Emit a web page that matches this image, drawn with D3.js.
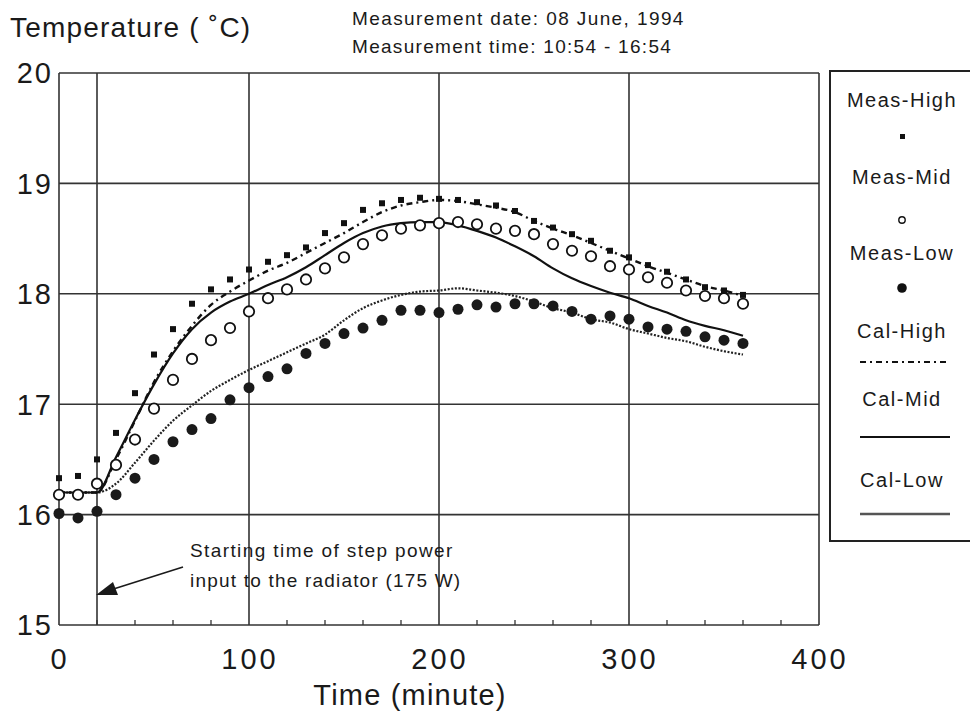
<!DOCTYPE html>
<html>
<head>
<meta charset="utf-8">
<script src="https://cdn.jsdelivr.net/npm/d3@7"></script>
<style>
  body { margin: 0; background: #fff; }
  svg { font-family: "Liberation Sans", Arial, Helvetica, sans-serif; }
</style>
</head>
<body>
<div id="chart"></div>
<script>
var width = 970,
    height = 712;

// time of each measurement / calculation point (minute)
var times = [0, 10, 20, 30, 40, 50, 60, 70, 80, 90, 100, 110, 120, 130, 140, 150, 160, 170, 180,
    190, 200, 210, 220, 230, 240, 250, 260, 270, 280, 290, 300, 310, 320, 330, 340, 350, 360];

var measHigh = [16.33, 16.35, 16.5, 16.74, 17.1, 17.45, 17.68, 17.91, 18.04, 18.13, 18.22, 18.29, 18.35,
    18.42, 18.55, 18.64, 18.76, 18.82, 18.85, 18.87, 18.86, 18.85, 18.83, 18.8, 18.75, 18.66, 18.6,
    18.54, 18.48, 18.39, 18.33, 18.26, 18.2, 18.13, 18.06, 18.03, 17.99];
var measMid = [16.18, 16.18, 16.28, 16.45, 16.68, 16.96, 17.22, 17.41, 17.58, 17.69, 17.84, 17.96, 18.04,
    18.13, 18.23, 18.33, 18.45, 18.53, 18.59, 18.62, 18.64, 18.65, 18.63, 18.59, 18.57, 18.54, 18.45,
    18.39, 18.34, 18.25, 18.22, 18.15, 18.1, 18.03, 17.98, 17.96, 17.91];
var measLow = [16.01, 15.97, 16.03, 16.18, 16.33, 16.5, 16.66, 16.77, 16.87, 17.04, 17.15, 17.25, 17.32,
    17.46, 17.55, 17.64, 17.69, 17.76, 17.85, 17.85, 17.83, 17.86, 17.9, 17.88, 17.91, 17.91, 17.89,
    17.84, 17.77, 17.8, 17.77, 17.7, 17.68, 17.66, 17.61, 17.58, 17.55];
var calHigh = [16.2, 16.2, 16.2, 16.5, 16.85, 17.2, 17.48, 17.71, 17.9, 18.02, 18.12, 18.21, 18.28,
    18.37, 18.46, 18.55, 18.65, 18.74, 18.8, 18.83, 18.85, 18.84, 18.81, 18.78, 18.74, 18.66, 18.59,
    18.53, 18.46, 18.39, 18.32, 18.25, 18.19, 18.13, 18.07, 18.03, 17.98];
var calMid = [16.2, 16.2, 16.2, 16.52, 16.86, 17.18, 17.46, 17.68, 17.83, 17.93, 18.0, 18.08, 18.15,
    18.24, 18.35, 18.46, 18.55, 18.61, 18.64, 18.65, 18.65, 18.62, 18.57, 18.51, 18.43, 18.34, 18.23,
    18.14, 18.07, 18.01, 17.96, 17.89, 17.83, 17.76, 17.71, 17.67, 17.62];
var calLow = [16.2, 16.2, 16.2, 16.28, 16.47, 16.67, 16.85, 16.99, 17.12, 17.22, 17.31, 17.39, 17.47,
    17.55, 17.63, 17.76, 17.87, 17.94, 17.99, 18.02, 18.03, 18.05, 18.03, 18.01, 17.98, 17.93, 17.87,
    17.83, 17.77, 17.74, 17.68, 17.64, 17.6, 17.57, 17.52, 17.48, 17.45];

var xTicks = [0, 100, 200, 300, 400];
var xMinorTicks = [20, 40, 60, 80, 120, 140, 160, 180, 220, 240, 260, 280, 320, 340, 360, 380];
var yTicks = [15, 16, 17, 18, 19, 20];
var powerStart = 20;

var legendItems = ["Meas-High", "Meas-Mid", "Meas-Low", "Cal-High", "Cal-Mid", "Cal-Low"];

var svg = d3.select("#chart").append("svg")
    .attr("width", width)
    .attr("height", height);

var x = d3.scaleLinear().domain([0, 400]).range([59, 819]);
var y = d3.scaleLinear().domain([15, 20]).range([625, 73]);

var ink = "#1a1a1a";

/** grid */
svg.append("g").selectAll("line")
    .data(yTicks)
    .enter().append("line")
    .attr("x1", x(0)).attr("x2", x(400))
    .attr("y1", function(d) { return y(d); })
    .attr("y2", function(d) { return y(d); })
    .attr("stroke", "#333").attr("stroke-width", 1.6);

svg.append("g").selectAll("line")
    .data(xTicks.concat([powerStart]))
    .enter().append("line")
    .attr("x1", function(d) { return x(d); })
    .attr("x2", function(d) { return x(d); })
    .attr("y1", y(20)).attr("y2", y(15))
    .attr("stroke", "#333").attr("stroke-width", 1.6);

// minor ticks on bottom axis
svg.append("g").selectAll("line")
    .data(xMinorTicks)
    .enter().append("line")
    .attr("x1", function(d) { return x(d); })
    .attr("x2", function(d) { return x(d); })
    .attr("y1", y(15)).attr("y2", y(15) - 5)
    .attr("stroke", "#333").attr("stroke-width", 1.3);

/** tick labels */
svg.append("g").selectAll("text")
    .data(yTicks)
    .enter().append("text")
    .attr("x", 53)
    .attr("y", function(d) { return y(d); })
    .attr("dy", "0.36em")
    .attr("text-anchor", "end")
    .attr("font-size", 29)
    .attr("letter-spacing", 2)
    .attr("fill", ink)
    .text(function(d) { return d; });

svg.append("g").selectAll("text")
    .data(xTicks)
    .enter().append("text")
    .attr("x", function(d) { return x(d) + 1; })
    .attr("y", 669)
    .attr("text-anchor", "middle")
    .attr("font-size", 29)
    .attr("letter-spacing", 3)
    .attr("fill", ink)
    .text(function(d) { return d; });

svg.append("text")
    .attr("x", 410).attr("y", 705)
    .attr("text-anchor", "middle")
    .attr("font-size", 29)
    .attr("letter-spacing", 1.2)
    .attr("fill", ink)
    .text("Time (minute)");

svg.append("text")
    .attr("x", 10).attr("y", 37)
    .attr("font-size", 28)
    .attr("letter-spacing", 1.2)
    .attr("fill", ink)
    .text("Temperature ( ˚C)");

svg.append("text")
    .attr("x", 352).attr("y", 25)
    .attr("font-size", 19)
    .attr("letter-spacing", 1.4)
    .attr("fill", ink)
    .text("Measurement date: 08 June, 1994");
svg.append("text")
    .attr("x", 352).attr("y", 53)
    .attr("font-size", 19)
    .attr("letter-spacing", 1.3)
    .attr("fill", ink)
    .text("Measurement time: 10:54 - 16:54");

/** calculated lines */
function series(vals) {
    return times.map(function(t, i) { return [t, vals[i]]; });
}

var line = d3.line()
    .x(function(d) { return x(d[0]); })
    .y(function(d) { return y(d[1]); })
    .curve(d3.curveMonotoneX);

svg.append("path")
    .datum(series(calLow))
    .attr("d", line)
    .attr("fill", "none")
    .attr("stroke", "#222").attr("stroke-width", 2.2)
    .attr("stroke-dasharray", "2,1.6");

svg.append("path")
    .datum(series(calMid))
    .attr("d", line)
    .attr("fill", "none")
    .attr("stroke", "#111").attr("stroke-width", 2.2);

svg.append("path")
    .datum(series(calHigh))
    .attr("d", line)
    .attr("fill", "none")
    .attr("stroke", "#111").attr("stroke-width", 2.4)
    .attr("stroke-dasharray", "6,4,2,4");

/** measured points */
svg.append("g").selectAll("rect")
    .data(series(measHigh))
    .enter().append("rect")
    .attr("x", function(d) { return x(d[0]) - 3; })
    .attr("y", function(d) { return y(d[1]) - 3; })
    .attr("width", 6).attr("height", 6)
    .attr("fill", "#111");

svg.append("g").selectAll("circle")
    .data(series(measMid))
    .enter().append("circle")
    .attr("cx", function(d) { return x(d[0]); })
    .attr("cy", function(d) { return y(d[1]); })
    .attr("r", 5.2)
    .attr("fill", "#fff")
    .attr("stroke", "#111").attr("stroke-width", 1.8);

svg.append("g").selectAll("circle")
    .data(series(measLow))
    .enter().append("circle")
    .attr("cx", function(d) { return x(d[0]); })
    .attr("cy", function(d) { return y(d[1]); })
    .attr("r", 5.5)
    .attr("fill", "#1a1a1a");

/** annotation */
svg.append("text")
    .attr("x", 190).attr("y", 557)
    .attr("font-size", 19)
    .attr("letter-spacing", 1.4)
    .attr("fill", ink)
    .text("Starting time of step power");
svg.append("text")
    .attr("x", 190).attr("y", 587)
    .attr("font-size", 19)
    .attr("letter-spacing", 1.2)
    .attr("fill", ink)
    .text("input to the radiator (175 W)");

svg.append("line")
    .attr("x1", 183).attr("y1", 567)
    .attr("x2", 104).attr("y2", 592)
    .attr("stroke", ink).attr("stroke-width", 1.6);
svg.append("path")
    .attr("d", "M96,595 L113,582 L118,595 Z")
    .attr("fill", ink);

/** legend */
var legend = svg.append("g").attr("class", "legend");
legend.append("rect")
    .attr("x", 830).attr("y", 71)
    .attr("width", 160).attr("height", 470)
    .attr("fill", "#fff")
    .attr("stroke", "#222").attr("stroke-width", 2);

var legendY = [107, 184, 260, 338, 406, 487];
var legendMarkY = [136, 220, 288, 362, 437, 514];

legend.selectAll("text")
    .data(legendItems)
    .enter().append("text")
    .attr("x", 902)
    .attr("y", function(d, i) { return legendY[i]; })
    .attr("text-anchor", "middle")
    .attr("font-size", 20)
    .attr("letter-spacing", 1.5)
    .attr("fill", ink)
    .text(function(d) { return d; });

legend.append("rect")
    .attr("x", 900).attr("y", legendMarkY[0] - 2)
    .attr("width", 5).attr("height", 5)
    .attr("fill", "#111");
legend.append("circle")
    .attr("cx", 902).attr("cy", legendMarkY[1])
    .attr("r", 3.2).attr("fill", "none")
    .attr("stroke", "#111").attr("stroke-width", 1.4);
legend.append("circle")
    .attr("cx", 902).attr("cy", legendMarkY[2])
    .attr("r", 4.8).attr("fill", "#111");

legend.append("line")
    .attr("x1", 860).attr("x2", 948)
    .attr("y1", legendMarkY[3]).attr("y2", legendMarkY[3])
    .attr("stroke", "#111").attr("stroke-width", 2.2)
    .attr("stroke-dasharray", "6,4,2,4");
legend.append("line")
    .attr("x1", 860).attr("x2", 950)
    .attr("y1", legendMarkY[4]).attr("y2", legendMarkY[4])
    .attr("stroke", "#111").attr("stroke-width", 2.2);
legend.append("line")
    .attr("x1", 860).attr("x2", 950)
    .attr("y1", legendMarkY[5]).attr("y2", legendMarkY[5])
    .attr("stroke", "#555").attr("stroke-width", 2.5);
</script>
</body>
</html>
